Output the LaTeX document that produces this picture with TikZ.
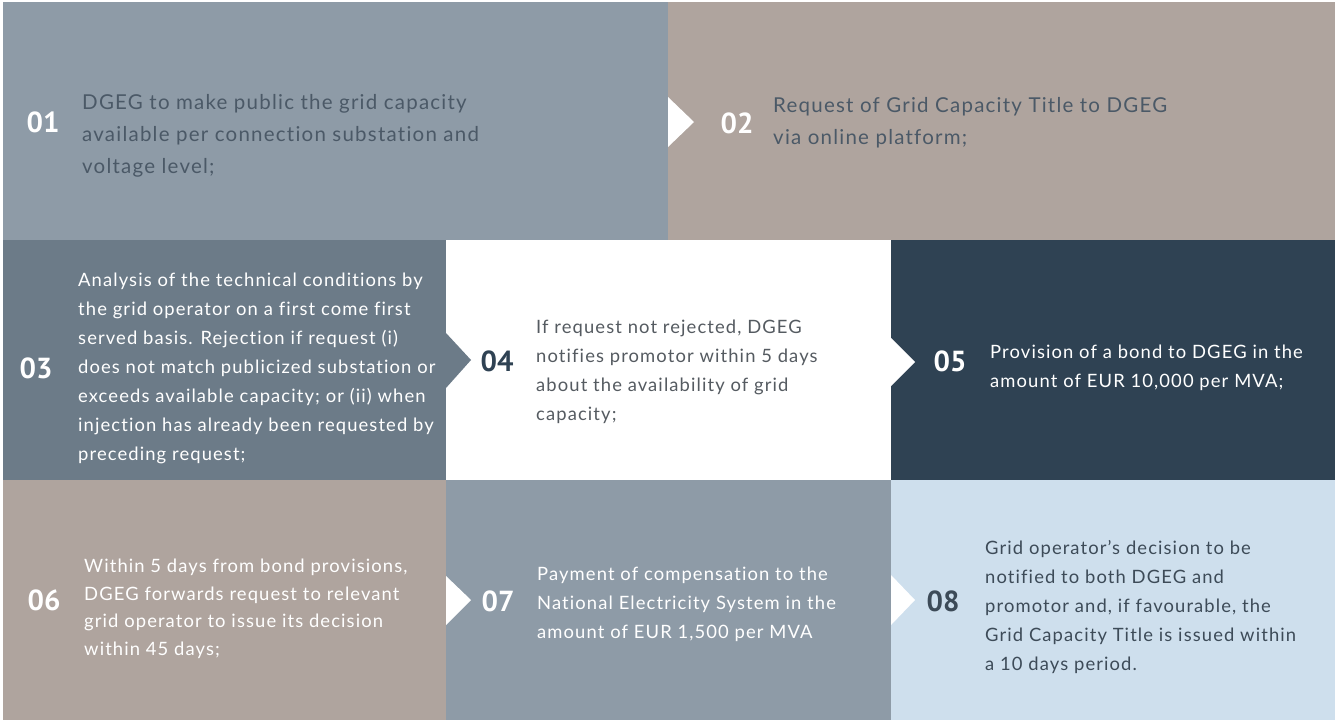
\documentclass[tikz,border=0pt]{standalone}
\usepackage{fontspec}
\setmainfont{Lato}[LetterSpace=6, Ligatures=NoCommon]
\newfontfamily\numfont{PT Sans}
\definecolor{greyblue}{HTML}{8E9BA7}
\definecolor{taupe}{HTML}{AFA49E}
\definecolor{slate}{HTML}{6C7B88}
\definecolor{navy}{HTML}{2F4253}
\definecolor{paleblue}{HTML}{CEDFED}
\definecolor{inkdark}{HTML}{4B5967}
\definecolor{inkgrey}{HTML}{555B61}
\definecolor{inknavy}{HTML}{3D4B58}
\tikzset{
  cell/.style={rectangle, anchor=north west, inner sep=0pt, draw=none},
  num/.style={font=\numfont\bfseries\fontsize{29}{30}\selectfont, inner sep=0pt},
  bodybig/.style={anchor=west, align=left, inner sep=0pt, font=\fontsize{20.5}{32}\selectfont},
  body/.style={anchor=west, align=left, inner sep=0pt, font=\fontsize{18.4}{29}\selectfont},
  bodytight/.style={body, font=\fontsize{18.4}{27.5}\selectfont},
  pointer/.style={fill=white, draw=none}
}
\begin{document}
\begin{tikzpicture}[x=1pt, y=-1pt]
\useasboundingbox (0,0) rectangle (1335,720);
% background panels
\node[cell, fill=greyblue, minimum width=665pt, minimum height=238pt] (c1) at (3,2) {};
\node[cell, fill=taupe,    minimum width=667pt, minimum height=238pt] (c2) at (668,2) {};
\node[cell, fill=slate,    minimum width=443pt, minimum height=240pt] (c3) at (3,240) {};
\node[cell, fill=white,    minimum width=445pt, minimum height=240pt] (c4) at (446,240) {};
\node[cell, fill=navy,     minimum width=444pt, minimum height=240pt] (c5) at (891,240) {};
\node[cell, fill=taupe,    minimum width=443pt, minimum height=240pt] (c6) at (3,480) {};
\node[cell, fill=greyblue, minimum width=445pt, minimum height=240pt] (c7) at (446,480) {};
\node[cell, fill=paleblue, minimum width=444pt, minimum height=240pt] (c8) at (891,480) {};
% pointers between steps
\fill[pointer] (668,97) -- (694,122) -- (668,147) -- cycle;
\fill[slate] (446,333) -- (471,360) -- (446,388) -- cycle;
\fill[pointer] (891,338) -- (915,362) -- (891,386) -- cycle;
\fill[pointer] (446,576) -- (471,600) -- (446,625) -- cycle;
\fill[pointer] (891,575) -- (915,600) -- (891,625) -- cycle;
% step 01
\node[num, text=white] (n1) at (43,122) {01};
\node[bodybig, text=inkdark] (t1) at (82,136) {DGEG to make public the grid capacity\\available per connection substation and\\voltage level;};
% step 02
\node[num, text=white] (n2) at (737,123) {02};
\node[bodybig, text=inkdark] (t2) at (773,123) {Request of Grid Capacity Title to DGEG\\via online platform;};
% step 03
\node[num, text=white] (n3) at (36,368) {03};
\node[body, text=white] (t3) at (78,368) {Analysis of the technical conditions by\\the grid operator on a first come first\\served basis. Rejection if request (i)\\does not match publicized substation or\\exceeds available capacity; or (ii) when\\injection has already been requested by\\preceding request;};
% step 04
\node[num, text=navy] (n4) at (497,361) {04};
\node[body, text=inkgrey] (t4) at (536,372) {If request not rejected, DGEG\\notifies promotor within 5 days\\about the availability of grid\\capacity;};
% step 05
\node[num, text=white] (n5) at (950,361) {05};
\node[body, text=white] (t5) at (990,368) {Provision of a bond to DGEG in the\\amount of EUR 10,000 per MVA;};
% step 06
\node[num, text=white] (n6) at (44,600) {06};
\node[bodytight, text=white] (t6) at (84,609) {Within 5 days from bond provisions,\\DGEG forwards request to relevant\\grid operator to issue its decision\\within 45 days;};
% step 07
\node[num, text=white] (n7) at (498,601) {07};
\node[body, text=white] (t7) at (537,604) {Payment of compensation to the\\National Electricity System in the\\amount of EUR 1,500 per MVA};
% step 08
\node[num, text=inknavy] (n8) at (943,601) {08};
\node[body, text=inknavy] (t8) at (985,607) {Grid operator's decision to be\\notified to both DGEG and\\promotor and, if favourable, the\\Grid Capacity Title is issued within\\a 10 days period.};
\end{tikzpicture}
\end{document}
